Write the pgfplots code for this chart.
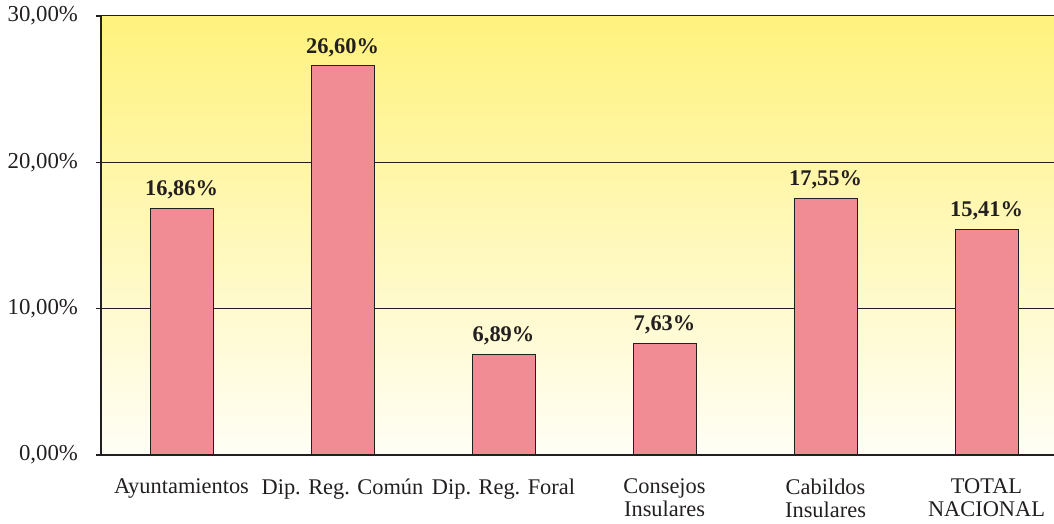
\documentclass[border=0pt]{standalone}
\usepackage{pgfplots}
\pgfplotsset{compat=1.18}
\usepackage{fontspec}
\setmainfont{Liberation Serif}
\definecolor{barpink}{RGB}{241,140,148}
\definecolor{topyel}{RGB}{255,242,125}
\definecolor{botyel}{RGB}{255,254,246}
\definecolor{linec}{RGB}{35,31,32}
\begin{document}
\begin{tikzpicture}
\begin{axis}[
  at={(0,0)}, anchor=south west,
  scale only axis,
  width=476.5pt, height=219.5pt,
  xmin=-0.5, xmax=5.419,
  ymin=0, ymax=30,
  axis x line*=bottom, axis y line*=left,
  axis line style={linec, line width=0.75pt},
  axis background/.style={top color=topyel, bottom color=botyel},
  xtick={0,1,2,3,4,5},
  xticklabels={Ayuntamientos, Dip. Reg. Común, Dip. Reg. Foral, {Consejos\\Insulares}, {Cabildos\\Insulares}, {TOTAL\\NACIONAL}},
  xticklabel style={align=center, font=\fontsize{11.2}{11.5}\selectfont, text=linec},
  x tick style={draw=none},
  minor xtick={-0.5,0.5,1.5,2.5,3.5,4.5},
  minor x tick style={linec, line width=0.6pt},
  minor tick length=2.5pt,
  major tick length=2.5pt,
  tick align=outside,
  ytick={0,10,20,30},
  yticklabels={{0,00\%},{10,00\%},{20,00\%},{30,00\%}},
  yticklabel style={font=\fontsize{11.4}{13}\selectfont, text=linec, xshift=-5.5pt},
  y tick style={linec, line width=0.6pt},
  ymajorgrids,
  grid style={linec, line width=0.5pt},
  xticklabel shift=6pt,
]
\addplot[ybar, bar width=31.5pt, fill=barpink, draw=linec, line width=0.5pt,
  nodes near coords={\pgfmathprintnumber[fixed,fixed zerofill,precision=2,use comma,assume math mode=true]{\pgfplotspointmeta}\%},
  nodes near coords style={font=\fontsize{11.2}{13}\selectfont\bfseries, text=linec, anchor=south, yshift=1pt},
  point meta=y]
coordinates {(0,16.86) (1,26.60) (2,6.89) (3,7.63) (4,17.55) (5,15.41)};
\end{axis}
\pgfresetboundingbox
\path (-50.5pt,-34.5pt) rectangle (476.5pt,227.5pt);
\end{tikzpicture}
\end{document}
